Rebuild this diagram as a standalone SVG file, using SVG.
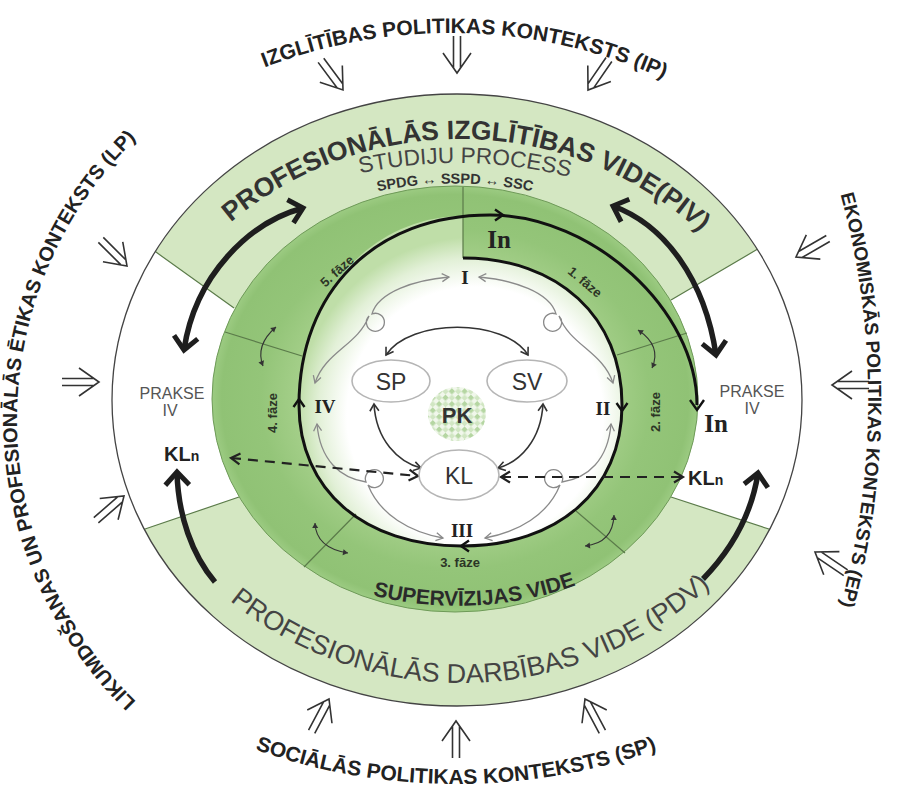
<svg xmlns="http://www.w3.org/2000/svg" width="900" height="787" viewBox="0 0 900 787">
<style>
  text{font-family:"Liberation Sans",Arial,sans-serif}
  .ctx{font-weight:bold;fill:#222}
  .band{fill:#d4e7c2}
  .div{stroke:#5b7b4a;stroke-width:1.2;fill:none}
  .spiral{stroke:#111;stroke-width:3;fill:none}
  .chev{stroke:#111;stroke-width:2.4;fill:none;stroke-linejoin:miter}
  .thick{stroke:#1e1e1e;stroke-width:5.5;fill:none;stroke-linecap:butt}
  .gray{stroke:#8a8a8a;stroke-width:1.3;fill:none}
  .dark{stroke:#333;stroke-width:1.6;fill:none}
  .dash{stroke:#222;stroke-width:2.2;fill:none;stroke-dasharray:10 7}
  .tiny{stroke:#333;stroke-width:1.1;fill:none}
  .faze{font-weight:bold;font-size:13px;fill:#2c3526}
  .rom{font-family:"Liberation Serif","Times New Roman",serif;font-weight:bold;font-size:19px;fill:#222}
  .inn{font-family:"Liberation Serif","Times New Roman",serif;font-weight:bold;font-size:25px;fill:#222}
  .node{fill:#fff;stroke:#b5b5b5;stroke-width:1.6}
  .nodet{font-size:23px;fill:#333}
  .prk{font-size:16px;fill:#555}
  .kln{font-weight:bold;font-size:20px;fill:#222}
  .ctxarr{stroke:#333;stroke-width:1.6;fill:none}
</style>
<defs>
  <radialGradient id="ringG" cx="0.5" cy="0.5" r="0.5">
    <stop offset="0.6" stop-color="#a9d28e"/>
    <stop offset="0.8" stop-color="#94c579"/>
    <stop offset="0.96" stop-color="#90c275"/>
    <stop offset="1" stop-color="#9ccb82"/>
  </radialGradient>
  <radialGradient id="innerG" gradientUnits="userSpaceOnUse" cx="475" cy="415" r="178">
    <stop offset="0" stop-color="#ffffff"/>
    <stop offset="0.72" stop-color="#ffffff"/>
    <stop offset="0.88" stop-color="#e2f0d7"/>
    <stop offset="1" stop-color="#bfdea8"/>
  </radialGradient>
  <pattern id="pkPat" width="9" height="9" patternUnits="userSpaceOnUse" patternTransform="rotate(45)">
    <rect width="9" height="9" fill="#eef6e8"/>
    <rect width="4.5" height="4.5" fill="#a8cf92"/>
    <rect x="4.5" y="4.5" width="4.5" height="4.5" fill="#c9e2b8"/>
  </pattern>
  <marker id="thickHead" markerUnits="userSpaceOnUse" viewBox="-20 -16 24 32" refX="0" refY="0" markerWidth="24" markerHeight="32" orient="auto-start-reverse" overflow="visible">
    <path d="M-13,-12 L0,0 L-13,12" stroke="#1e1e1e" stroke-width="5" fill="none"/>
  </marker>
  <marker id="darkHead" markerUnits="userSpaceOnUse" viewBox="-10 -6 12 12" refX="0" refY="0" markerWidth="12" markerHeight="12" orient="auto-start-reverse" overflow="visible">
    <path d="M-7,-4.5 L0,0 L-7,4.5" stroke="#333" stroke-width="1.6" fill="none"/>
  </marker>
  <marker id="grayHead" markerUnits="userSpaceOnUse" viewBox="-10 -6 12 12" refX="0" refY="0" markerWidth="12" markerHeight="12" orient="auto-start-reverse" overflow="visible">
    <path d="M-7,-4 L0,0 L-7,4" stroke="#8a8a8a" stroke-width="1.3" fill="none"/>
  </marker>
  <marker id="dashHead" markerUnits="userSpaceOnUse" viewBox="-12 -8 14 16" refX="0" refY="0" markerWidth="14" markerHeight="16" orient="auto-start-reverse" overflow="visible">
    <path d="M-9,-5.5 L0,0 L-9,5.5" stroke="#222" stroke-width="2.2" fill="none"/>
  </marker>
  <marker id="tinyHead" markerUnits="userSpaceOnUse" viewBox="-7 -4 8 8" refX="0" refY="0" markerWidth="8" markerHeight="8" orient="auto-start-reverse" overflow="visible">
    <path d="M-5,-3 L0,0 L-5,3 Z" fill="#333"/>
  </marker>
  <g id="dbl">
    <path d="M-14,-20 L0,0 L14,-20 M-3.5,-37 L-3.5,-5 M3.5,-37 L3.5,-5"/>
  </g>
  <path id="tpIP" d="M152.5,126.9 A519.6,519.6 0 0 1 748.5,126.9"/>
  <path id="tpEP" d="M839.4,190 A780,780 0 0 1 839.4,610"/>
  <path id="tpSP" d="M200.7,727.4 A604,604 0 0 0 711.3,727.4"/>
  <path id="tpLP" d="M184,741 A392,392 0 0 1 184,99"/>
  <path id="tpPIV" d="M186.5,266.5 A357,357 0 0 1 733.5,266.5"/>
  <path id="tpSTU" d="M264.7,205.6 A455,455 0 0 1 649.3,205.6"/>
  <path id="tpSPDG" d="M324,206.6 A383,383 0 0 1 586,206.6"/>
  <path id="tpPDV" d="M179.9,551.7 A367.5,367.5 0 0 0 742.9,551.7"/>
  <path id="tpSUP" d="M280.4,558.3 A354,354 0 0 0 634.4,558.3"/>
</defs>

<rect width="900" height="787" fill="#fff"/>

<!-- outer environment ring -->
<g id="outer-ring">
  <ellipse cx="457" cy="400" rx="345" ry="306" fill="#fff"/>
  <path class="band" d="M455,399 L234,308 L155.3,251.6 A345,306 0 0 1 757.3,249.3 L671,300 Z"/>
  <path class="band" d="M455,399 L671,497 L769.7,529.3 A345,306 0 0 1 144.3,529.3 L239,497 Z"/>
  <path class="div" d="M234,308 L155.3,251.6 M671,300 L757.3,249.3 M671,497 L769.7,529.3 M239,497 L144.3,529.3"/>
  <ellipse cx="457" cy="400" rx="345" ry="306" fill="none" stroke="#444" stroke-width="1.3"/>
</g>

<!-- supervision ring -->
<g id="supervision-ring">
  <ellipse cx="455" cy="399" rx="243" ry="213" fill="url(#ringG)" stroke="#6e9a58" stroke-width="1"/>
  <path d="M463,258 C558,258 622,317 622,405 C622,490 558,546 462,546 C364,546 299,490 299,405 C299,291 375,216 463,216 Z" fill="url(#innerG)"/>
  <path class="div" d="M463,187 L463,258 M225,332 L302,356 M617,355 L687,333 M304,567 L356,514 M625,553 L576,511"/>
</g>

<!-- spiral -->
<g id="spiral">
  <path class="spiral" d="M463,258 C558,258 622,317 622,405 C622,490 558,546 462,546 C364,546 299,490 299,405 C299,291 375,215 490,215 C593,215 697,310 697,405"/>
  <path class="chev" d="M495,209.5 L503,215 L495,220.5"/>
  <path class="chev" d="M616.5,403 L622,411 L627.5,403"/>
  <path class="chev" d="M469,540.5 L461,546 L469,551.5"/>
  <path class="chev" d="M293.5,407 L299,399 L304.5,407"/>
  <path class="chev" d="M690,400 L697,410 L704,400"/>
</g>

<!-- connectors -->
<g id="connectors">
  <path class="thick" d="M303,208 C250,222 195,275 184,350" marker-start="url(#thickHead)" marker-end="url(#thickHead)"/>
  <path class="thick" d="M613,206 C665,225 705,280 716,355" marker-start="url(#thickHead)" marker-end="url(#thickHead)"/>
  <path class="thick" d="M215,582 C192,555 178,515 177,472" marker-end="url(#thickHead)"/>
  <path class="thick" d="M703,579 C733,548 752,512 758,473" marker-end="url(#thickHead)"/>

  <path class="gray" d="M449,277 C415,280 378,292 372,314 a9,9 0 1 1 -3,2 C358,345 325,352 315,383" marker-start="url(#grayHead)" marker-end="url(#grayHead)"/>
  <path class="gray" d="M479,277 C513,280 550,292 556,314 a9,9 0 1 0 3,2 C570,345 603,352 613,383" marker-start="url(#grayHead)" marker-end="url(#grayHead)"/>
  <path class="gray" d="M317,424 C320,460 340,478 366,482 a9,9 0 1 1 2,3 C380,515 410,532 443,538" marker-start="url(#grayHead)" marker-end="url(#grayHead)"/>
  <path class="gray" d="M611,424 C608,460 588,478 562,482 a9,9 0 1 0 -2,3 C548,515 518,532 485,538" marker-start="url(#grayHead)" marker-end="url(#grayHead)"/>

  <path class="dark" d="M386,355 C410,318 505,318 528,355" marker-start="url(#darkHead)" marker-end="url(#darkHead)"/>
  <path class="dark" d="M374,404 C376,440 398,462 421,468" marker-start="url(#darkHead)" marker-end="url(#darkHead)"/>
  <path class="dark" d="M543,404 C541,440 520,462 498,468" marker-start="url(#darkHead)" marker-end="url(#darkHead)"/>

  <path class="dash" d="M231,458 L418,476" marker-start="url(#dashHead)" marker-end="url(#dashHead)"/>
  <path class="dash" d="M501,477 L683,477" marker-start="url(#dashHead)" marker-end="url(#dashHead)"/>

  <path class="tiny" d="M276,327 Q255,345 263,366" marker-start="url(#tinyHead)" marker-end="url(#tinyHead)"/>
  <path class="tiny" d="M638,330 Q662,346 652,368" marker-start="url(#tinyHead)" marker-end="url(#tinyHead)"/>
  <path class="tiny" d="M315,523 Q316,548 348,553" marker-start="url(#tinyHead)" marker-end="url(#tinyHead)"/>
  <path class="tiny" d="M614,515 Q613,543 585,546" marker-start="url(#tinyHead)" marker-end="url(#tinyHead)"/>
</g>

<!-- context arrows -->
<g id="context-arrows" class="ctxarr">
  <use href="#dbl" transform="translate(343,90) rotate(-36.6)"/>
  <use href="#dbl" transform="translate(457,73)"/>
  <use href="#dbl" transform="translate(588,90) rotate(34.5)"/>
  <use href="#dbl" transform="translate(796,257) rotate(60)"/>
  <use href="#dbl" transform="translate(832,385) rotate(90)"/>
  <use href="#dbl" transform="translate(815,552) rotate(124)"/>
  <use href="#dbl" transform="translate(329,699) rotate(208)"/>
  <use href="#dbl" transform="translate(456,721) rotate(180)"/>
  <use href="#dbl" transform="translate(585,699) rotate(152)"/>
  <use href="#dbl" transform="translate(127,266) rotate(-45)"/>
  <use href="#dbl" transform="translate(99,382) rotate(-90)"/>
  <use href="#dbl" transform="translate(124,496) rotate(-131)"/>
</g>

<!-- context texts -->
<g id="context-texts" class="ctx">
  <text font-size="21"><textPath href="#tpIP" startOffset="332" text-anchor="middle">IZGLĪTĪBAS POLITIKAS KONTEKSTS (IP)</textPath></text>
  <text font-size="19"><textPath href="#tpEP" startOffset="50%" text-anchor="middle">EKONOMISKĀS POLITIKAS KONTEKSTS (EP)</textPath></text>
  <text font-size="21"><textPath href="#tpSP" startOffset="50%" text-anchor="middle">SOCIĀLĀS POLITIKAS KONTEKSTS (SP)</textPath></text>
  <text font-size="20"><textPath href="#tpLP" startOffset="50%" text-anchor="middle">LIKUMDOŠANAS UN PROFESIONĀLĀS ĒTIKAS KONTEKSTS (LP)</textPath></text>
</g>

<!-- environment labels -->
<g id="piv">
  <text font-size="26.5" font-weight="bold" fill="#333"><textPath href="#tpPIV" startOffset="319" text-anchor="middle">PROFESIONĀLĀS IZGLĪTĪBAS VIDE(PIV)</textPath></text>
  <text font-size="22.5" fill="#444"><textPath href="#tpSTU" startOffset="206.5" text-anchor="middle">STUDIJU PROCESS</textPath></text>
  <text font-size="14.5" font-weight="bold" fill="#333"><textPath href="#tpSPDG" startOffset="50%" text-anchor="middle">SPDG ↔ SSPD ↔ SSC</textPath></text>
</g>
<g id="pdv">
  <text font-size="27" fill="#444"><textPath href="#tpPDV" startOffset="332" text-anchor="middle">PROFESIONĀLĀS DARBĪBAS VIDE (PDV)</textPath></text>
</g>
<g id="sv-label">
  <text font-size="21" font-weight="bold" fill="#2a2a2a"><textPath href="#tpSUP" startOffset="203" text-anchor="middle">SUPERVĪZIJAS VIDE</textPath></text>
</g>

<g id="prakse-left">
  <text class="prk" x="172" y="399" text-anchor="middle">PRAKSE</text>
  <text class="prk" x="170" y="416" text-anchor="middle">IV</text>
</g>
<g id="prakse-right">
  <text class="prk" x="752" y="397" text-anchor="middle">PRAKSE</text>
  <text class="prk" x="752" y="414" text-anchor="middle">IV</text>
</g>

<g id="phases">
  <text class="faze" transform="translate(585,282) rotate(40)" text-anchor="middle" dominant-baseline="central">1. fāze</text>
  <text class="faze" transform="translate(655,412) rotate(-90)" text-anchor="middle" dominant-baseline="central">2. fāze</text>
  <text class="faze" x="460" y="562" text-anchor="middle" dominant-baseline="central">3. fāze</text>
  <text class="faze" transform="translate(272,413) rotate(-90)" text-anchor="middle" dominant-baseline="central">4. fāze</text>
  <text class="faze" transform="translate(337,271) rotate(-42)" text-anchor="middle" dominant-baseline="central">5. fāze</text>
</g>

<g id="roman">
  <text class="rom" x="465" y="277" text-anchor="middle" dominant-baseline="central">I</text>
  <text class="rom" x="603" y="408" text-anchor="middle" dominant-baseline="central">II</text>
  <text class="rom" x="462" y="530" text-anchor="middle" dominant-baseline="central">III</text>
  <text class="rom" x="325" y="406" text-anchor="middle" dominant-baseline="central">IV</text>
</g>

<g id="in-top"><text class="inn" x="499" y="239" text-anchor="middle" dominant-baseline="central">In</text></g>
<g id="in-right"><text class="inn" x="716" y="423" text-anchor="middle" dominant-baseline="central">In</text></g>

<g id="kln-left"><text class="kln" x="164" y="461">KL<tspan font-size="14">n</tspan></text></g>
<g id="kln-right"><text class="kln" x="688" y="485">KL<tspan font-size="14">n</tspan></text></g>

<g id="node-SP">
  <ellipse class="node" cx="391" cy="381" rx="39" ry="21"/>
  <text class="nodet" x="391" y="382" text-anchor="middle" dominant-baseline="central">SP</text>
</g>
<g id="node-SV">
  <ellipse class="node" cx="527" cy="381" rx="40" ry="21"/>
  <text class="nodet" x="527" y="382" text-anchor="middle" dominant-baseline="central">SV</text>
</g>
<g id="node-KL">
  <ellipse class="node" cx="459" cy="475" rx="40" ry="25"/>
  <text class="nodet" x="459" y="476" text-anchor="middle" dominant-baseline="central">KL</text>
</g>
<g id="node-PK">
  <ellipse cx="457" cy="414" rx="29" ry="27" fill="url(#pkPat)" opacity="0.85"/>
  <text x="457" y="415" text-anchor="middle" dominant-baseline="central" font-size="22" font-weight="bold" fill="#333">PK</text>
</g>
</svg>
